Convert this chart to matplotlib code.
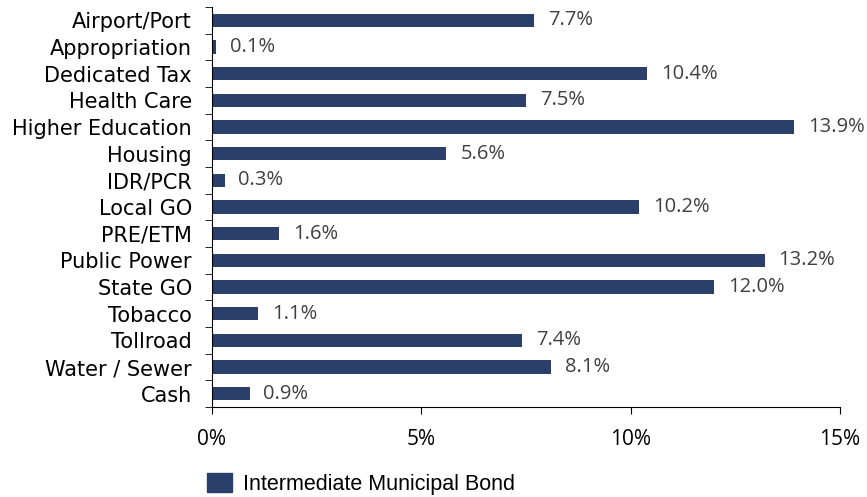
import matplotlib
matplotlib.use("Agg")
import matplotlib.pyplot as plt
import numpy as np
from matplotlib.patches import Patch

# sectors, top to bottom
sectors = ["Airport/Port", "Appropriation", "Dedicated Tax", "Health Care",
           "Higher Education", "Housing", "IDR/PCR", "Local GO", "PRE/ETM",
           "Public Power", "State GO", "Tobacco", "Tollroad", "Water / Sewer", "Cash"]
weights = [7.7, 0.1, 10.4, 7.5, 13.9, 5.6, 0.3, 10.2, 1.6, 13.2, 12.0, 1.1, 7.4, 8.1, 0.9]
x_ticks = [0, 5, 10, 15]
series_name = "Intermediate Municipal Bond"

bar_color = "#2A3F69"

fig = plt.figure(figsize=(8.67, 4.97), dpi=100)
ax = fig.add_axes([0.2445, 0.181, 0.7245, 0.805])

y = np.arange(len(sectors))
ax.barh(y, weights, height=0.5, color=bar_color)
ax.set_ylim(len(sectors) - 0.5, -0.5)
ax.set_xlim(0, 15)

# value labels
for yi, w in zip(y, weights):
    ax.text(w + 0.33, yi, f"{w:.1f}%", va="center", ha="left",
            fontsize=14.5, color="#404040", family="Open Sans")

ax.set_yticks(y)
ax.set_yticklabels(sectors, fontsize=15)
ax.tick_params(axis="y", which="major", length=0, pad=14.5)
ax.set_yticks(np.arange(-0.5, len(sectors)), minor=True)
ax.tick_params(axis="y", which="minor", length=5, direction="out")

ax.set_xticks(x_ticks)
ax.set_xticklabels([f"{t}%" for t in x_ticks], fontsize=15, family="Open Sans")
ax.tick_params(axis="x", length=5, direction="out", pad=11)

for s in ["top", "right"]:
    ax.spines[s].set_visible(False)

fig.legend(handles=[Patch(color=bar_color, label=series_name)],
           loc="lower left", bbox_to_anchor=(207 / 867, 0.004), frameon=False,
           prop={"family": "Liberation Sans", "size": 15.5},
           borderpad=0, borderaxespad=0,
           handlelength=1.15, handleheight=1.0, handletextpad=0.5)

fig.savefig("out.png", dpi=100)
